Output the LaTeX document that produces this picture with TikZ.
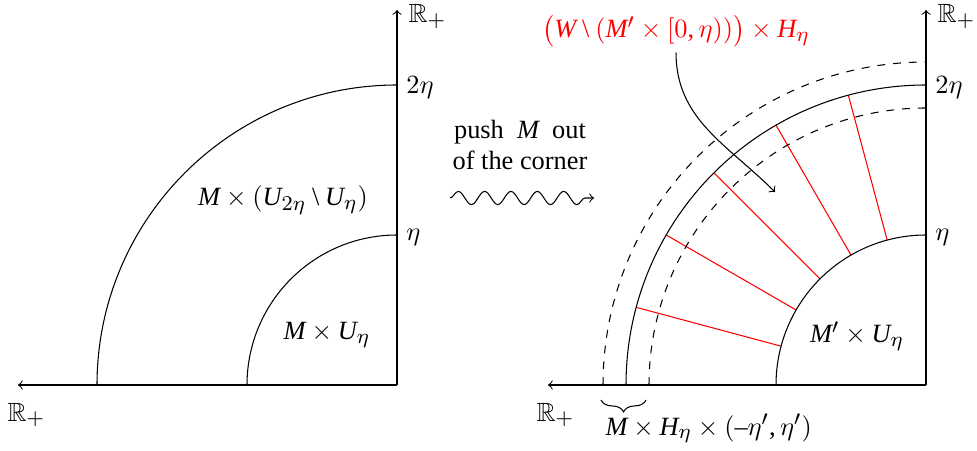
\documentclass[tikz,border=0pt]{standalone}
\usepackage{amssymb}
\usepackage{fontspec}
\setmainfont{Liberation Serif}
\usepackage[italic]{mathastext}
\usetikzlibrary{decorations.pathmorphing,decorations.pathreplacing}
\begin{document}
\begin{tikzpicture}[x=0.3794pt,y=0.3794pt,
  axis/.style={->},
  dasharc/.style={dashed},
  fibre/.style={red},
  lbl/.style={anchor=base west, inner sep=0pt}]
\useasboundingbox (0,0) rectangle (977,450);
% ---------- left picture
\coordinate (O1) at (397,65);
\coordinate (Y1) at (397,440);
\coordinate (X1) at (18,65);
\draw[axis] (O1) -- (Y1);
\draw[axis] (O1) -- (X1);
\node[lbl] (ry1) at (408,427) {$\mathbb{R}_+$};
\node[lbl] (rx1) at (7,29) {$\mathbb{R}_+$};
\node[right] (t2a) at (397,362) {$2\eta$};
\node[right] (t1a) at (397,213) {$\eta$};
\draw (O1) ++(-150,0) arc[start angle=180,end angle=90,radius=150];
\draw (O1) ++(-300,0) arc[start angle=180,end angle=90,radius=300];
\node (ann) at (283,250) {$M\times(U_{2\eta}\setminus U_\eta)$};
\node (inner1) at (327,115) {$M\times U_\eta$};
% ---------- middle
\node[align=center] (push) at (520,305) {push \ $M$ \ out\\of the corner};
\coordinate (s1) at (450,252);
\coordinate (s2) at (594,252);
\draw[->, decorate, decoration={snake, post length=2pt}] (s1) -- (s2);
% ---------- right picture
\coordinate (O2) at (926,65);
\coordinate (Y2) at (926,440);
\coordinate (X2) at (548,65);
\draw[axis] (O2) -- (Y2);
\draw[axis] (O2) -- (X2);
\node[lbl] (ry2) at (937,427) {$\mathbb{R}_+$};
\node[lbl] (rx2) at (536,29) {$\mathbb{R}_+$};
\node[right] (t2b) at (926,362) {$2\eta$};
\node[right] (t1b) at (926,213) {$\eta$};
\foreach \a in {105,120,135,150,165}
  \draw[fibre] ([shift={(\a:150)}]O2) -- ([shift={(\a:300)}]O2);
\draw (O2) ++(-150,0) arc[start angle=180,end angle=90,radius=150];
\draw (O2) ++(-300,0) arc[start angle=180,end angle=90,radius=300];
\draw[dasharc] (O2) ++(-277,0) arc[start angle=180,end angle=90,radius=277];
\draw[dasharc] (O2) ++(-323,0) arc[start angle=180,end angle=90,radius=323];
\node (inner2) at (857,114) {$M'\times U_\eta$};
\draw[decorate, decoration={brace, mirror, amplitude=4.5pt}] (601,50) -- (646,50);
\node[lbl] (coll) at (605,15) {$M\times H_\eta\times(-\eta',\eta')$};
\node[red, inner sep=0pt] (lab) at (676,419) {$\bigl(W\setminus(M'\times[0,\eta))\bigr)\times H_\eta$};
\coordinate (tip) at (775,258);
\draw[->] ([yshift=-2pt]lab.south) to[out=-90,in=135] (tip);
\end{tikzpicture}
\end{document}
